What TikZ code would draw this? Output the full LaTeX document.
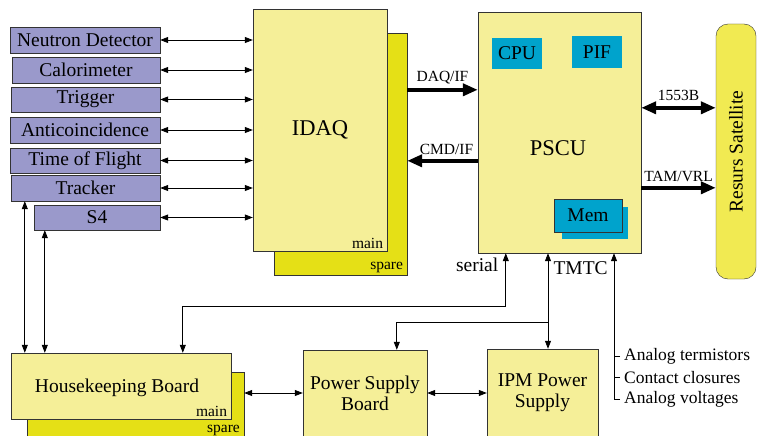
\documentclass[tikz,border=0pt]{standalone}
\usepackage{fontspec}
\setmainfont{Liberation Serif}
\newfontfamily\diagfont{Liberation Serif}
\usepackage{tikz}
\usetikzlibrary{arrows.meta,positioning}
\definecolor{detpurple}{RGB}{154,153,203}
\definecolor{boardyellow}{RGB}{245,239,152}
\definecolor{spareyellow}{RGB}{229,224,22}
\definecolor{chipteal}{RGB}{0,163,204}
\definecolor{satyellow}{RGB}{241,234,82}
\tikzset{
  every node/.style={font=\diagfont},
  det/.style={draw=black!80,fill=detpurple,minimum height=26pt,inner sep=0pt,font=\diagfont\fontsize{19.5}{20}\selectfont},
  board/.style={draw=black!80,fill=boardyellow,inner sep=0pt},
  sparebox/.style={draw=black!80,fill=spareyellow,inner sep=0pt},
  chip/.style={fill=chipteal,inner sep=0pt,font=\diagfont\fontsize{19.5}{20}\selectfont},
  lbl/.style={font=\diagfont\fontsize{19.5}{21}\selectfont,align=center},
  small/.style={font=\diagfont\fontsize{15.5}{17}\selectfont,inner sep=1pt},
  note/.style={font=\diagfont\fontsize{17.5}{19}\selectfont,anchor=west,inner sep=4pt},
  sig/.style={line width=0.8pt,{Triangle[length=8pt,width=6pt]}-{Triangle[length=8pt,width=6pt]}},
  sigto/.style={line width=0.8pt,-{Triangle[length=8pt,width=6pt]}},
  bus/.style={line width=4pt,-{Triangle[length=15pt,width=12pt]}}
}
\begin{document}
\begin{tikzpicture}[x=1pt,y=-1pt]
  \clip (0,0) rectangle (758,436);
  \fill[white] (0,0) rectangle (758,436);
  % detector boxes
  \node[det,minimum width=150pt] (nd) at (85,40) {Neutron Detector};
  \node[det,minimum width=148pt] (cal) at (86,70) {Calorimeter};
  \node[det,minimum width=149pt,minimum height=25pt] (trig) at (85.5,99.5) {Trigger};
  \node[det,minimum width=150pt] (anti) at (85,130) {Anticoincidence};
  \node[det,minimum width=150pt,minimum height=25pt] (tof) at (85,160.5) {Time of Flight};
  \node[det,minimum width=149pt] (trk) at (85.5,188) {Tracker};
  \node[det,minimum width=126pt,minimum height=25pt] (s4) at (97,217.5) {S4};
  % IDAQ
  \node[sparebox,minimum width=133pt,minimum height=242pt] (idaqs) at (340.5,154) {};
  \node[board,minimum width=134pt,minimum height=242pt] (idaq) at (320,130) {};
  \node[font=\diagfont\fontsize{22.5}{24}\selectfont] at (idaq) {IDAQ};
  \node[small,anchor=south east] at ([xshift=-3pt,yshift=1pt]idaq.south east) {main};
  \node[small,anchor=south east] at ([xshift=-3pt,yshift=1pt]idaqs.south east) {spare};
  % PSCU
  \node[board,minimum width=163pt,minimum height=241pt] (pscu) at (559.5,132.5) {};
  \node[font=\diagfont\fontsize{22.5}{24}\selectfont] at (558,148) {PSCU};
  \node[chip,minimum width=50pt,minimum height=31pt] (cpu) at (517,53.5) {CPU};
  \node[chip,minimum width=50pt,minimum height=32pt] (pif) at (597,52) {PIF};
  \fill[chipteal] (562,207) rectangle (628,239);
  \node[chip,draw=black!80,minimum width=68pt,minimum height=33pt] (mem) at (588,215.5) {Mem};
  % satellite
  \node[draw=black!80,fill=satyellow,rounded corners=12pt,minimum width=40pt,minimum height=255pt] (sat) at (736,151.5) {};
  \node[lbl,rotate=90] at (sat) {Resurs Satellite};
  % housekeeping and power
  \node[sparebox,minimum width=217pt,minimum height=66pt] (hks) at (135.5,405) {};
  \node[board,minimum width=220pt,minimum height=66pt] (hk) at (121,386) {};
  \node[lbl] at (117,388) {Housekeeping Board};
  \node[small,anchor=south east] at ([xshift=-3pt,yshift=1pt]hk.south east) {main};
  \node[small,anchor=south east] at (241,437) {spare};
  \node[board,lbl,minimum width=124pt,minimum height=86pt] (psb) at (365,393) {Power Supply\\Board};
  \node[board,lbl,minimum width=111pt,minimum height=87pt] (ipm) at (542.5,392.5) {IPM Power\\Supply};
  % detector links
  \foreach \d in {nd,cal,trig,anti,tof,trk,s4}
    \draw[sig] (\d.east) -- (\d.east -| idaq.west);
  \draw[sig] ([xshift=14pt]trk.south west) -- ([xshift=14pt]trk.south west |- hk.north);
  \draw[sig] ([xshift=11pt]s4.south west) -- ([xshift=11pt]s4.south west |- hk.north);
  % buses
  \draw[bus] ([yshift=-57pt]idaqs.north east) -- node[small,above=3pt] {DAQ/IF} ([yshift=-57pt]idaqs.north east -| pscu.west);
  \draw[bus] ([yshift=-128pt]idaqs.north east -| pscu.west) -- node[small,above=3pt,xshift=4pt] {CMD/IF} ([yshift=-128pt]idaqs.north east);
  \draw[bus,{Triangle[length=15pt,width=12pt]}-{Triangle[length=15pt,width=12pt]}] ([yshift=-96pt]pscu.north east) -- node[small,above=4pt] {1553B} ([yshift=-96pt]pscu.north east -| sat.west);
  \draw[bus] ([yshift=-176pt]pscu.north east) -- node[small,above=3pt] {TAM/VRL} ([yshift=-176pt]pscu.north east -| sat.west);
  % serial and TMTC
  \draw[sig] ([xshift=28pt]pscu.south west) -- ++(0,53) -| ([xshift=172pt]hk.north west);
  \node[lbl,anchor=east] at ([xshift=24pt,yshift=-12pt]pscu.south west) {serial};
  \coordinate (tm) at (548,322);
  \draw[sig] (pscu.south -| tm) -- (ipm.north -| tm);
  \draw[sigto] (tm) -| ([xshift=94pt]psb.north west);
  \node[lbl,anchor=west] at (550,268) {TMTC};
  % analog inputs
  \coordinate (an) at (614,0);
  \node[note] (at) at (620,356) {Analog termistors};
  \node[note] (cc) at (620,377.5) {Contact closures};
  \node[note] (av) at (620,399) {Analog voltages};
  \draw[sigto] (av.west) -| (an |- pscu.south);
  \draw[line width=0.8pt] (at.west) -- (at.west -| an);
  \draw[line width=0.8pt] (cc.west) -- (cc.west -| an);
  % hk and power links
  \draw[sig] (psb.west -| hks.east) -- (psb.west);
  \draw[sig] (psb.east) -- (psb.east -| ipm.west);
\end{tikzpicture}
\end{document}
